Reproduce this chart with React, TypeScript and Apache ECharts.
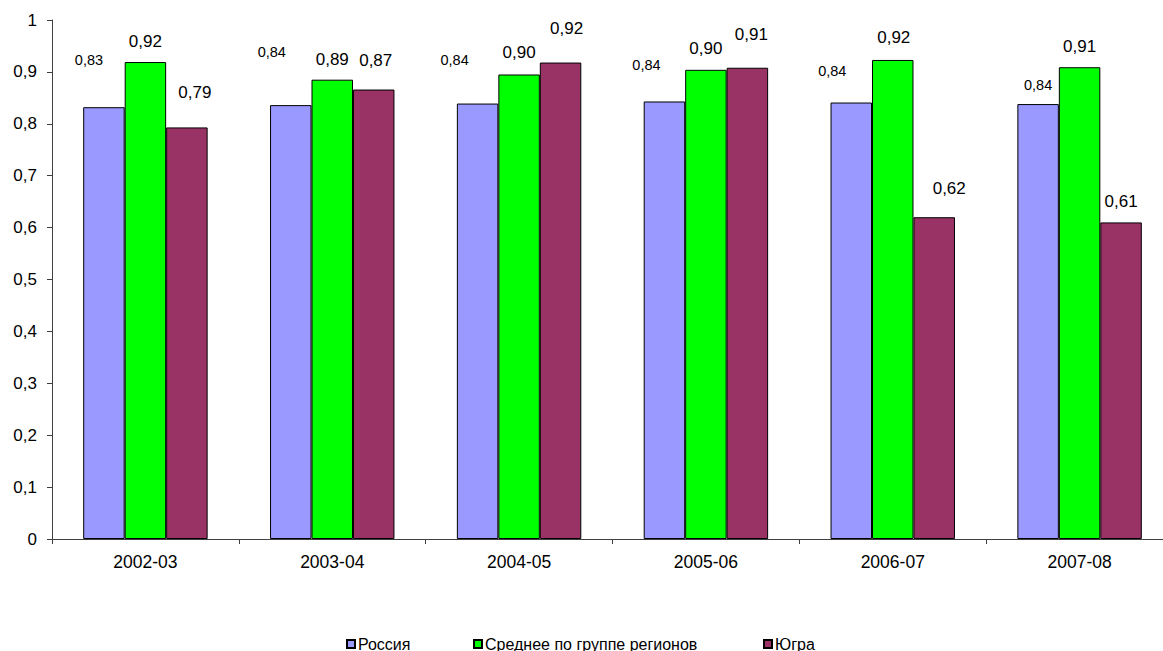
import React, { useEffect, useRef } from "react";
import * as echarts from "echarts";

const categories = ["2002-03", "2003-04", "2004-05", "2005-06", "2006-07", "2007-08"];
const seriesNames = ["Россия", "Среднее по группе регионов", "Югра"];
const russia = [0.832, 0.836, 0.839, 0.843, 0.841, 0.838];
const groupAvg = [0.919, 0.885, 0.895, 0.904, 0.923, 0.909];
const yugra = [0.793, 0.866, 0.918, 0.908, 0.62, 0.61];
const yTicks = [0, 0.1, 0.2, 0.3, 0.4, 0.5, 0.6, 0.7, 0.8, 0.9, 1];

// label offsets (label centre relative to bar top centre), as placed in the original
const russiaLabelOffsets = [[-15, -47], [-19, -53], [-23, -44], [-18, -36], [-19, -32], [0, -19]];
const groupLabelOffsets = [[0, -21], [0, -20], [0, -22], [0, -21], [1, -22], [0, -21]];
const yugraLabelOffsets = [[8, -35], [2, -29], [6, -34], [4, -33], [15, -29], [0, -21]];
const legendLefts = [346, 473, 763];

const colors = ["#9999FF", "#00FF00", "#993366"];
const FONT = "Arial, 'Liberation Sans', sans-serif";

function fmt2(v: number) {
  return v.toFixed(2).replace(".", ",");
}

function buildData(values: number[], offsets: number[][], lh: number) {
  return values.map((v, i) => ({
    value: v,
    label: { offset: [offsets[i][0], offsets[i][1] + lh / 2] },
  }));
}

export default function App() {
  const ref = useRef<HTMLDivElement>(null);
  useEffect(() => {
    if (!ref.current) return;
    const chart = echarts.init(ref.current, undefined, { renderer: "svg" });
    const mkSeries = (name: string, values: number[], offsets: number[][], color: string, fontSize: number) => {
      const lh = fontSize + 2;
      return {
        name,
        type: "bar",
        barGap: "0%",
        barCategoryGap: "33.4%",
        data: buildData(values, offsets, lh),
        itemStyle: { color, borderColor: "#000", borderWidth: 1 },
        label: {
          show: true,
          position: "top",
          distance: 0,
          fontSize,
          lineHeight: lh,
          fontFamily: FONT,
          color: "#000",
          formatter: (p: any) => fmt2(p.value),
        },
      };
    };
    chart.setOption({
      animation: false,
      backgroundColor: "#fff",
      grid: { left: 52, right: 0, top: 20, bottom: 112, containLabel: false },
      xAxis: {
        type: "category",
        data: categories,
        axisLine: { lineStyle: { color: "#404040", width: 1 } },
        axisTick: { show: true, length: 5, lineStyle: { color: "#404040" } },
        axisLabel: { fontSize: 17.5, fontFamily: FONT, color: "#000", margin: 14 },
      },
      yAxis: {
        type: "value",
        min: yTicks[0],
        max: yTicks[yTicks.length - 1],
        interval: 0.1,
        splitLine: { show: false },
        axisLine: { show: true, lineStyle: { color: "#404040", width: 1 } },
        axisTick: { show: true, length: 5, lineStyle: { color: "#404040" } },
        axisLabel: {
          fontSize: 17,
          fontFamily: FONT,
          color: "#000",
          margin: 15,
          formatter: (v: number) => String(Math.round(v * 10) / 10).replace(".", ","),
        },
      },
      legend: seriesNames.map((n, i) => ({
        data: [n],
        left: legendLefts[i],
        top: 636,
        padding: 0,
        itemWidth: 8,
        itemHeight: 8,
        icon: "rect",
        textStyle: { fontSize: 16, fontFamily: FONT, color: "#000", padding: [0, 0, 0, -2] },
      })),
      series: [
        mkSeries(seriesNames[0], russia, russiaLabelOffsets, colors[0], 14.5),
        mkSeries(seriesNames[1], groupAvg, groupLabelOffsets, colors[1], 17),
        mkSeries(seriesNames[2], yugra, yugraLabelOffsets, colors[2], 17),
      ],
    });
    return () => chart.dispose();
  }, []);
  return (
    <div style={{ position: "absolute", left: 0, top: 0, width: 1163, height: 651, overflow: "hidden" }}>
      <div ref={ref} style={{ position: "absolute", left: 0, top: 0, width: 1173, height: 651 }} />
    </div>
  );
}
